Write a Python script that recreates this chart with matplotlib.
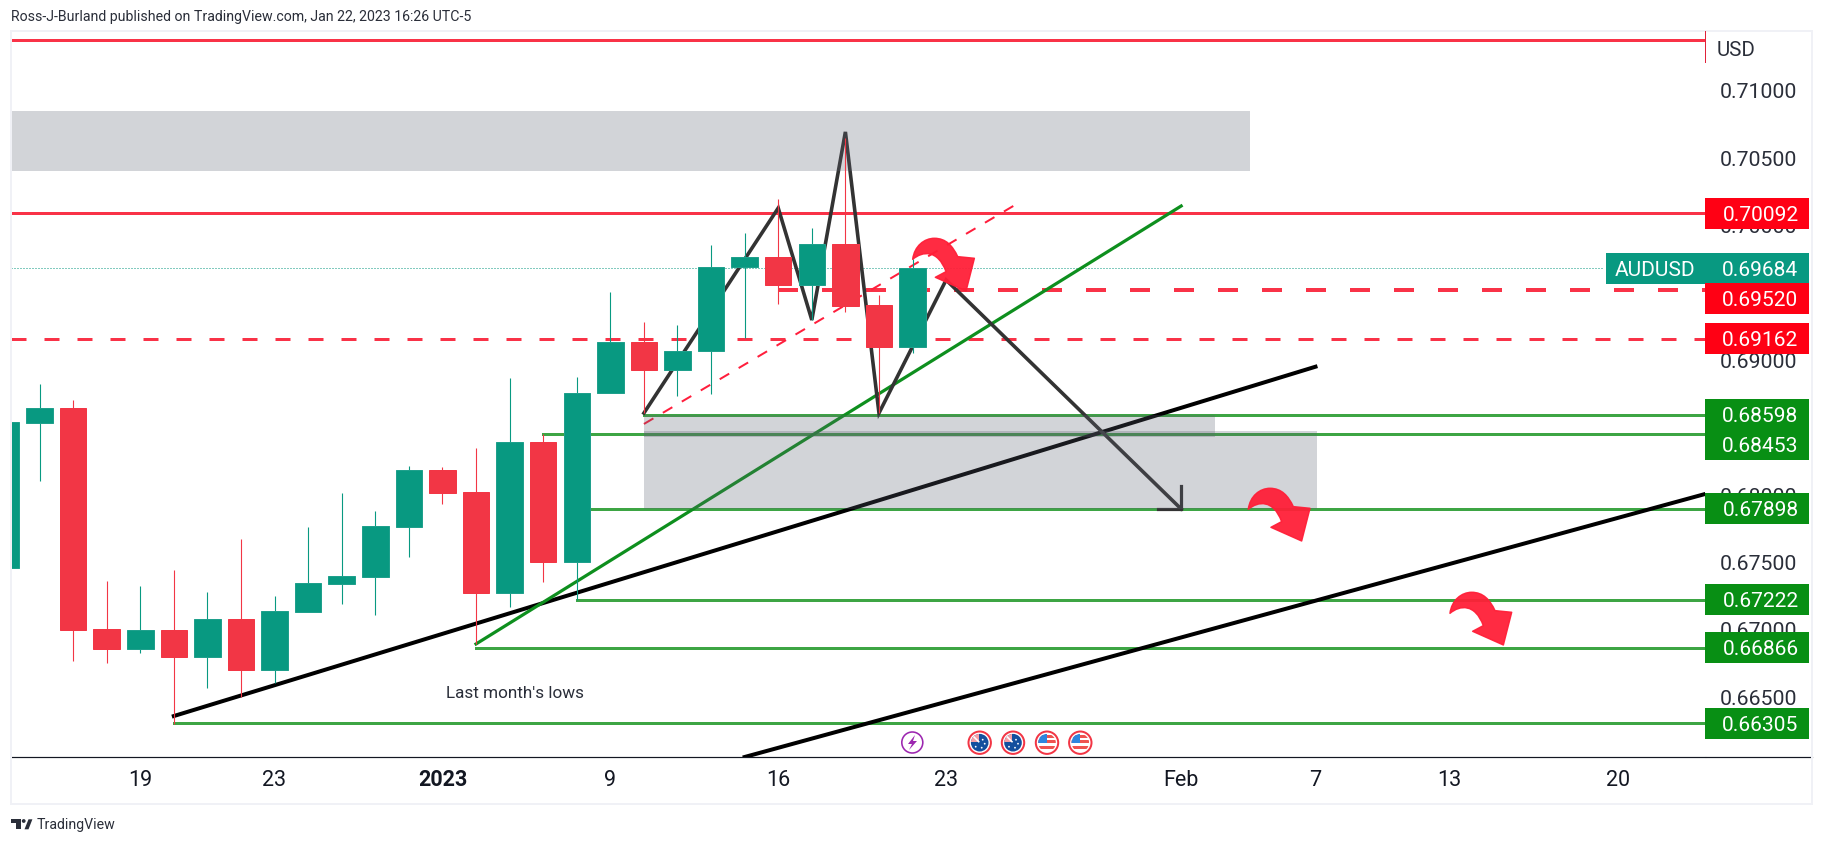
import matplotlib
matplotlib.use("Agg")
import matplotlib.pyplot as plt
from matplotlib.patches import Rectangle, Circle, Polygon, PathPatch
from matplotlib.path import Path

plt.rcParams['font.family'] = ['Roboto', 'DejaVu Sans']
plt.rcParams['lines.scale_dashes'] = False

# velas diarias AUDUSD, el primer indice es la vela cortada a la izquierda
first_bar = -1
opens = [0.67461, 0.68537, 0.68647, 0.67006, 0.66860, 0.66998, 0.66800, 0.67080, 0.66704, 0.67134, 0.67342,
         0.67394, 0.67766, 0.68186, 0.68023, 0.67275, 0.68394, 0.67506, 0.68756, 0.69137, 0.68931, 0.69068,
         0.69693, 0.69765, 0.69562, 0.69862, 0.69411, 0.69102]
highs = [0.68543, 0.68825, 0.68706, 0.67362, 0.67325, 0.67444, 0.67281, 0.67674, 0.67251, 0.67763, 0.68016,
         0.67882, 0.68216, 0.68206, 0.68350, 0.68869, 0.68454, 0.68877, 0.69508, 0.69285, 0.69263, 0.69857,
         0.69946, 0.70198, 0.69983, 0.70651, 0.69485, 0.69753]
lows = [0.67461, 0.68107, 0.66771, 0.66756, 0.66830, 0.66301, 0.66570, 0.66503, 0.66603, 0.67134, 0.67194,
        0.67112, 0.67543, 0.67934, 0.66895, 0.67171, 0.67357, 0.67221, 0.68756, 0.68609, 0.68738, 0.68753,
        0.69164, 0.69421, 0.69300, 0.69361, 0.68609, 0.69055]
closes = [0.68543, 0.68647, 0.67001, 0.66860, 0.66998, 0.66800, 0.67080, 0.66704, 0.67140, 0.67347, 0.67399,
          0.67771, 0.68186, 0.68018, 0.67275, 0.68394, 0.67506, 0.68758, 0.69137, 0.68931, 0.69070, 0.69693,
          0.69765, 0.69562, 0.69862, 0.69406, 0.69102, 0.69684]

x_tick_pos = [3, 7, 12, 17, 22, 27, 34, 38, 42, 47]
x_tick_labels = ['19', '23', '2023', '9', '16', '23', 'Feb', '7', '13', '20']
y_ticks = [0.71, 0.705, 0.70, 0.69, 0.68, 0.675, 0.67, 0.665]

# lineas horizontales: precio, indice donde empieza
top_line = 0.71379
resistance = 0.70092
last_price = 0.69684
dash_thick = 0.69520
dash_thin = 0.69162
green_prices = [0.68598, 0.68453, 0.67898, 0.67222, 0.66866, 0.66305]
green_starts = [18, 15, 16, 16, 13, 4]

# etiquetas de la escala: texto y precio donde queda centrada
red_tags = ['0.70092', '0.69520', '0.69162']
red_tag_y = [0.70092, 0.69456, 0.69162]
green_tags = ['0.68598', '0.68453', '0.67898', '0.67222', '0.66866', '0.66305']
green_tag_y = [0.68598, 0.68372, 0.67898, 0.67222, 0.66866, 0.66305]

# dibujos sobre el grafico, en indice de vela y precio
black1_x, black1_y = [4, 38], [0.66360, 0.68953]
black2_x, black2_y = [21, 49.6], [0.66056, 0.68008]
green_x, green_y = [13, 34], [0.66895, 0.70146]
red_x, red_y = [18, 29], [0.68528, 0.70146]
zig_x = [18, 22, 23, 24, 25, 27, 34]
zig_y = [0.68609, 0.70131, 0.69300, 0.70696, 0.68609, 0.69597, 0.67897]
head_x = [33.3, 34, 34]
head_y = [0.67897, 0.67897, 0.68070]
zone_left = [-2, 18, 18]
zone_right = [36.06, 35, 38.04]
zone_top = [0.70851, 0.68598, 0.68476]
zone_bottom = [0.70406, 0.68433, 0.67898]

GREEN = '#089981'
RED = '#F23645'
LINE_RED = '#F93247'
LINE_GREEN = '#3DA544'
TAG_RED = '#FF0014'
TAG_GREEN = '#088F14'
DARK = '#131722'
TEXT = '#2A2E39'
Y_BOTTOM, Y_TOP = 0.66056, 0.71445
PX = 0.72  # un pixel en puntos a dpi 100


def px_box(x0, y0, x1, y1):
    return [x0 / 1823, 1 - y1 / 844, (x1 - x0) / 1823, (y1 - y0) / 844]


fig = plt.figure(figsize=(18.23, 8.44), dpi=100)

ax = fig.add_axes(px_box(11, 31, 1705, 757))
ax.set_xlim(-0.849, 49.6)
ax.set_ylim(Y_BOTTOM, Y_TOP)

# lineas horizontales
ax.plot([-1, 50], [top_line, top_line], color=LINE_RED, lw=3 * PX, zorder=3)
ax.plot([-1, 50], [resistance, resistance], color=LINE_RED, lw=3 * PX, zorder=3)
ax.plot([-0.849, 50], [dash_thin, dash_thin], color=LINE_RED, lw=3 * PX, zorder=3,
        linestyle=(0, (15 * PX, 18 * PX)))
ax.plot([22, 50], [dash_thick, dash_thick], color=LINE_RED, lw=4 * PX, zorder=3,
        linestyle=(0, (20 * PX, 24 * PX)))
ax.plot([-0.849, 46.6], [last_price, last_price], color=GREEN, lw=1 * PX, zorder=3,
        linestyle=(0, (1 * PX, 2 * PX)))
for price, start in zip(green_prices, green_starts):
    ax.plot([start, 50], [price, price], color=LINE_GREEN, lw=3 * PX, zorder=3)

# tendencias y zigzag
ax.plot(black1_x, black1_y, color='black', lw=4 * PX, zorder=3)
ax.plot(black2_x, black2_y, color='black', lw=4 * PX, zorder=3)
ax.plot(green_x, green_y, color='#0E8F1E', lw=3.2 * PX, zorder=3)
ax.plot(red_x, red_y, color='#FF1E3C', lw=2 * PX, zorder=3, linestyle=(0, (11 * PX, 11 * PX)))
ax.plot(zig_x, zig_y, color='#333333', lw=3.6 * PX, zorder=3, solid_joinstyle='miter')
ax.plot(head_x, head_y, color='#333333', lw=3.2 * PX, zorder=3, solid_joinstyle='miter')

# zonas grises
for left, right, top, bottom in zip(zone_left, zone_right, zone_top, zone_bottom):
    ax.add_patch(Rectangle((left, bottom), right - left, top - bottom, facecolor='#5C606F',
                           alpha=0.27, linewidth=0, zorder=4))

# velas
for i in range(len(opens)):
    x = first_bar + i
    col = GREEN if closes[i] >= opens[i] else RED
    edge = '#1FA08C' if closes[i] >= opens[i] else RED
    ax.vlines(x, lows[i], highs[i], color=col, lw=1.1 * PX, zorder=5)
    ax.bar(x, abs(closes[i] - opens[i]), bottom=min(opens[i], closes[i]), width=0.79,
           color=col, edgecolor=edge, linewidth=1 * PX, zorder=5)

for side in ['top', 'left', 'right']:
    ax.spines[side].set_visible(False)
ax.spines['bottom'].set_color(DARK)
ax.spines['bottom'].set_linewidth(1.2 * PX)
ax.set_xticks(x_tick_pos)
ax.set_xticklabels(x_tick_labels, fontsize=15.5, color=DARK)
ax.get_xticklabels()[2].set_fontweight('bold')
ax.tick_params(axis='x', length=0, pad=9)
ax.yaxis.tick_right()
ax.set_yticks(y_ticks)
ax.set_yticklabels(['%.5f' % v for v in y_ticks], fontsize=15.3, color=TEXT)
ax.tick_params(axis='y', length=0, pad=10.5)

# escala de precios
scale = fig.add_axes(px_box(1705, 31, 1812, 757), zorder=5)
scale.set_xlim(1705, 1812)
scale.set_ylim(Y_BOTTOM, Y_TOP)
scale.patch.set_visible(False)
scale.set_xticks([])
scale.set_yticks([])
for side in ['top', 'left', 'right']:
    scale.spines[side].set_visible(False)
scale.spines['bottom'].set_color(DARK)
scale.spines['bottom'].set_linewidth(1.2 * PX)
scale.spines['bottom'].set_bounds(1706, 1812)
tag_h = 31 / 13472


def tag(x0, price, text, color):
    scale.add_patch(Rectangle((x0, price - tag_h / 2), 1809 - x0, tag_h, facecolor=color,
                              linewidth=0, clip_on=False))
    scale.text(1798.5, price, text, color='white', fontsize=15.1, ha='right', va='center_baseline')


tag(1606, last_price, '0.69684', GREEN)
scale.text(1615, last_price, 'AUDUSD', color='white', fontsize=15.1, va='center_baseline', clip_on=False)
for text, price in zip(red_tags, red_tag_y):
    tag(1705, price, text, TAG_RED)
for text, price in zip(green_tags, green_tag_y):
    tag(1705, price, text, TAG_GREEN)

# capa en pixeles: marco, textos e iconos
over = fig.add_axes([0, 0, 1, 1], zorder=10)
over.set_xlim(0, 1823)
over.set_ylim(844, 0)
over.axis('off')
over.patch.set_visible(False)

over.add_patch(Rectangle((10.5, 30.5), 1801, 773.5, fill=False, edgecolor='#F0F1F6', linewidth=2 * PX))
over.text(11, 17, 'Ross-J-Burland published on TradingView.com, Jan 22, 2023 16:26 UTC-5',
          fontsize=10.2, color=TEXT, va='center')
over.plot([1705, 1705], [31, 62], color='#E0223A', lw=1 * PX)
over.text(1716.5, 48, 'USD', fontsize=14.8, color=TEXT, va='center_baseline')
over.text(446, 693, "Last month's lows", fontsize=12.3, color=TEXT, va='center')

# logo TradingView
over.add_patch(Polygon([(11, 819.3), (20.5, 819.3), (20.5, 829.3), (15.8, 829.3), (15.8, 823), (11, 823)],
                       facecolor=TEXT, linewidth=0))
over.add_patch(Circle((23.7, 821), 1.9, facecolor=TEXT, linewidth=0))
over.add_patch(Polygon([(24.5, 829.3), (28.5, 819.3), (32.4, 819.3), (28.5, 829.3)], facecolor=TEXT, linewidth=0))
over.text(36.5, 825, 'TradingView', fontsize=10.2, color=TEXT, va='center')


def curved_arrow(x0, y0):
    pts = [(0, 0), (5, -40), (35, -63), (65, -63), (100, -63), (120, -40), (135, -8),
           (185, -3), (160, 95), (68, 54), (100, 37), (75, -30), (30, -25), (0, 0), (0, 0)]
    codes = [Path.MOVETO, Path.CURVE4, Path.CURVE4, Path.CURVE4, Path.CURVE4, Path.CURVE4, Path.CURVE4,
             Path.LINETO, Path.LINETO, Path.LINETO, Path.LINETO, Path.CURVE4, Path.CURVE4, Path.CURVE4,
             Path.CLOSEPOLY]
    verts = [(x0 + a / 3, y0 + b / 3) for a, b in pts]
    over.add_patch(PathPatch(Path(verts, codes), facecolor='#FF1F38', edgecolor='#FF1F38',
                             linewidth=1.5 * PX, joinstyle='round', alpha=0.95))


curved_arrow(912.7, 259.3)
curved_arrow(1248.3, 509.3)
curved_arrow(1450, 613.3)

# iconos de eventos
over.add_patch(Circle((912.3, 742.5), 10.5, facecolor='white', edgecolor='#9C27B0', linewidth=1.6 * PX))
over.add_patch(Polygon([(915, 735), (908, 744), (912, 744), (909, 750), (917, 741), (913, 741)],
                       facecolor='#9C27B0', linewidth=0))


def flag_au(cx, cy):
    over.add_patch(Circle((cx, cy), 11.2, facecolor='white', edgecolor=RED, linewidth=2 * PX))
    disc = Circle((cx, cy), 8.8, facecolor='#144F9E', linewidth=0)
    over.add_patch(disc)
    corner = Rectangle((cx - 9, cy - 9), 8, 8, facecolor='#F4A0A8', linewidth=0)
    over.add_patch(corner)
    corner.set_clip_path(disc)
    cross, = over.plot([cx - 7, cx - 1], [cy - 7, cy - 1], color='white', lw=1.6 * PX)
    cross.set_clip_path(disc)
    for dx, dy in [(3, -3), (5, 1), (2, 5), (-4, 4)]:
        over.add_patch(Circle((cx + dx, cy + dy), 0.9, facecolor='white', linewidth=0))


def flag_us(cx, cy):
    over.add_patch(Circle((cx, cy), 11.2, facecolor='white', edgecolor=RED, linewidth=2 * PX))
    disc = Circle((cx, cy), 8.8, facecolor='white', linewidth=0)
    over.add_patch(disc)
    for top in [-8, -2.5, 3]:
        stripe = Rectangle((cx - 9, cy + top), 18, 3, facecolor='#EF5350', linewidth=0)
        over.add_patch(stripe)
        stripe.set_clip_path(disc)
    canton = Rectangle((cx - 9, cy - 9), 9, 9, facecolor='#2E86DE', linewidth=0)
    over.add_patch(canton)
    canton.set_clip_path(disc)


flag_au(979.7, 742.7)
flag_au(1013, 742.7)
flag_us(1047, 742.7)
flag_us(1080.3, 742.7)

fig.savefig('out.png', dpi=100, facecolor='white')
